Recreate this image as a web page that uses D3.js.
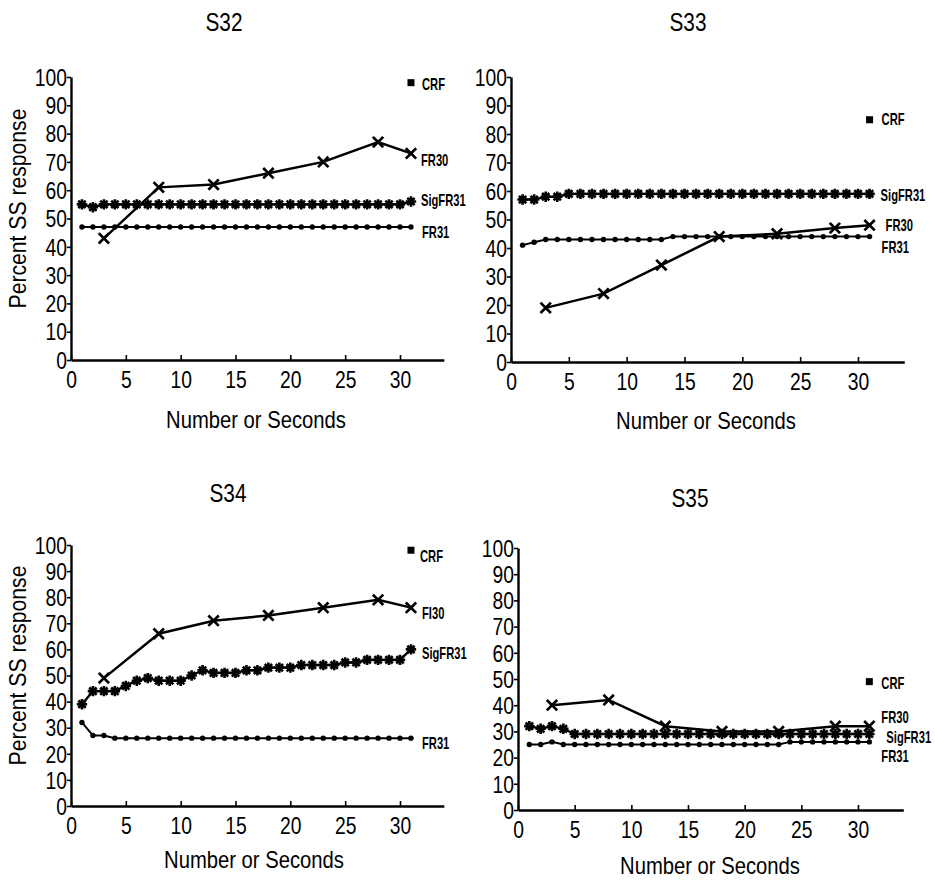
<!DOCTYPE html>
<html>
<head>
<meta charset="utf-8">
<script src="https://cdn.jsdelivr.net/npm/d3@7"></script>
<style>
  html, body { margin: 0; padding: 0; background: #fff; }
  svg { display: block; }
  text { font-family: "Liberation Sans", Arial, Helvetica, sans-serif; fill: #000; }
  .num { font-size: 23px; }
  .title { font-size: 26px; }
  .axlab { font-size: 23px; }
  .ser { font-size: 16px; font-weight: bold; }
</style>
</head>
<body>
<svg id="chart" width="935" height="880"></svg>
<script>
// ---------------- DATA ----------------
const sessions = [1,2,3,4,5,6,7,8,9,10,11,12,13,14,15,16,17,18,19,20,21,22,23,24,25,26,27,28,29,30,31];
const fr30Points = [3,8,13,18,23,28,31];
const xTicks = [0,5,10,15,20,25,30];
const yTicks = [0,10,20,30,40,50,60,70,80,90,100];

// S32
const s32FR31 = [47,47,47,47,47,47,47,47,47,47,47,47,47,47,47,47,47,47,47,47,47,47,47,47,47,47,47,47,47,47,47];
const s32Sig  = [55,54,55,55,55,55,55,55,55,55,55,55,55,55,55,55,55,55,55,55,55,55,55,55,55,55,55,55,55,55,56];
const s32FR30 = [43,61,62,66,70,77,73];
const s32CRF  = 98;

// S33
const s33FR31 = [41,42,43,43,43,43,43,43,43,43,43,43,43,44,44,44,44,44,44,44,44,44,44,44,44,44,44,44,44,44,44];
const s33Sig  = [57,57,58,58,59,59,59,59,59,59,59,59,59,59,59,59,59,59,59,59,59,59,59,59,59,59,59,59,59,59,59];
const s33FR30 = [19,24,34,44,45,47,48];
const s33CRF  = 85;

// S34
const s34FR31 = [32,27,27,26,26,26,26,26,26,26,26,26,26,26,26,26,26,26,26,26,26,26,26,26,26,26,26,26,26,26,26];
const s34Sig  = [39,44,44,44,46,48,49,48,48,48,50,52,51,51,51,52,52,53,53,53,54,54,54,54,55,55,56,56,56,56,60];
const s34FR30 = [49,66,71,73,76,79,76];
const s34CRF  = 98;

// S35
const s35FR31 = [25,25,26,25,25,25,25,25,25,25,25,25,25,25,25,25,25,25,25,25,25,25,25,26,26,26,26,26,26,26,26];
const s35Sig  = [32,31,32,31,29,29,29,29,29,29,29,29,29,29,29,29,29,29,29,29,29,29,29,29,29,29,29,29,29,29,29];
const s35FR30 = [40,42,32,30,30,32,32];
const s35CRF  = 49;

// series label texts and the y value (data units) where each label sits
const labelNames32 = ["CRF","FR30","SigFR31","FR31"];
const labelAt32    = [97.5, 70.7, 56.5, 45.2];
const labelNames33 = ["CRF","SigFR31","FR30","FR31"];
const labelAt33    = [85.3, 58.6, 48, 40.4];
const labelNames34 = ["CRF","FI30","SigFR31","FR31"];
const labelAt34    = [95.8, 74, 58.6, 24.1];
const labelNames35 = ["CRF","FR30","SigFR31","FR31"];
const labelAt35    = [48.5, 35.3, 27.9, 20.5];

// ---------------- LAYOUT ----------------
const panels = [
  {title:"S32", fr31:s32FR31, sig:s32Sig, fr30:s32FR30, crf:s32CRF, names:labelNames32, at:labelAt32,
   x0:71, x30:400, top:77, bottom:360, ylab:true, titleX:224, titleY:31, xlabX:256, xlabY:428, lx:[11,10,10,11]},
  {title:"S33", fr31:s33FR31, sig:s33Sig, fr30:s33FR30, crf:s33CRF, names:labelNames33, at:labelAt33,
   x0:511, x30:858, top:77, bottom:362, ylab:false, titleX:688, titleY:31, xlabX:706, xlabY:429, lx:[12,11,16,12]},
  {title:"S34", fr31:s34FR31, sig:s34Sig, fr30:s34FR30, crf:s34CRF, names:labelNames34, at:labelAt34,
   x0:71, x30:400, top:545, bottom:806, ylab:true, titleX:228, titleY:502, xlabX:254, xlabY:868, lx:[9,11,11,11]},
  {title:"S35", fr31:s35FR31, sig:s35Sig, fr30:s35FR30, crf:s35CRF, names:labelNames35, at:labelAt35,
   x0:518, x30:858, top:548, bottom:810, ylab:false, titleX:690, titleY:507, xlabX:710, xlabY:874, lx:[12,12,17,12]}
];

const svg = d3.select("#chart");

// condense text horizontally with a transform (reference uses a narrow face)
function condense(sel, ratio) {
  sel.each(function () {
    const tx = +(this.getAttribute("x") || 0);
    const ty = +(this.getAttribute("y") || 0);
    const prev = this.getAttribute("transform") || "";
    this.setAttribute("x", 0);
    this.setAttribute("y", 0);
    this.setAttribute("transform", `${prev} translate(${tx},${ty}) scale(${ratio},1)`);
  });
}

function starPath(r) {
  const d = r * 0.7071;
  return `M${-r},0L${r},0M0,${-r}L0,${r}M${-d},${-d}L${d},${d}M${-d},${d}L${d},${-d}`;
}
function xPath(r) {
  return `M${-r},${-r}L${r},${r}M${-r},${r}L${r},${-r}`;
}

panels.forEach(p => {
  const unit = (p.x30 - p.x0) / 30;
  const x = d3.scaleLinear().domain([0, 34]).range([p.x0, p.x0 + 34 * unit]);
  const y = d3.scaleLinear().domain([0, 100]).range([p.bottom, p.top]);
  const g = svg.append("g");

  // axes
  const yAxis = d3.axisLeft(y).tickValues(yTicks).tickSize(4).tickPadding(0).tickSizeOuter(0);
  const gy = g.append("g").attr("transform", `translate(${p.x0},0)`).call(yAxis);
  gy.attr("font-family", null).attr("font-size", null);
  gy.select(".domain").attr("stroke", "#000").attr("stroke-width", 2.4);
  gy.selectAll(".tick line").attr("stroke", "#000").attr("stroke-width", 1.6);
  gy.selectAll(".tick text").attr("class", "num").attr("dy", "0.36em");
  condense(gy.selectAll(".tick text"), 0.84);

  const xAxis = d3.axisBottom(x).tickValues(xTicks).tickSize(-5).tickPadding(9).tickSizeOuter(0);
  const gx = g.append("g").attr("transform", `translate(0,${p.bottom})`).call(xAxis);
  gx.attr("font-family", null).attr("font-size", null);
  gx.select(".domain").attr("stroke", "#000").attr("stroke-width", 2.4);
  gx.selectAll(".tick line").attr("stroke", "#000").attr("stroke-width", 1.6);
  gx.selectAll(".tick text").attr("class", "num").attr("dy", "0.82em");
  condense(gx.selectAll(".tick text"), 0.84);

  // titles / labels
  const t = g.append("text").attr("class", "title").attr("x", p.titleX).attr("y", p.titleY)
    .attr("text-anchor", "middle").text(p.title);
  condense(t, 0.8);
  const xl = g.append("text").attr("class", "axlab").attr("x", p.xlabX).attr("y", p.xlabY)
    .attr("text-anchor", "middle").text("Number or Seconds");
  condense(xl, 0.88);
  if (p.ylab) {
    const cy = (p.top + p.bottom) / 2 - 10;
    const yl = g.append("text").attr("class", "axlab").attr("transform", `translate(26,${cy}) rotate(-90)`)
      .attr("text-anchor", "middle").text("Percent SS response");
    condense(yl, 0.92);
  }

  const line = d3.line().x(d => x(d[0])).y(d => y(d[1]));

  // FR31 - dots
  const fr31 = sessions.map((s, i) => [s, p.fr31[i]]);
  g.append("path").attr("d", line(fr31)).attr("fill", "none").attr("stroke", "#000").attr("stroke-width", 2);
  g.selectAll(null).data(fr31).enter().append("circle")
    .attr("cx", d => x(d[0])).attr("cy", d => y(d[1])).attr("r", 2.7).attr("fill", "#000");

  // SigFR31 - asterisks
  const sig = sessions.map((s, i) => [s, p.sig[i]]);
  g.append("path").attr("d", line(sig)).attr("fill", "none").attr("stroke", "#000").attr("stroke-width", 2.4);
  g.selectAll(null).data(sig).enter().append("path")
    .attr("transform", d => `translate(${x(d[0])},${y(d[1])})`)
    .attr("d", starPath(5.2)).attr("stroke", "#000").attr("stroke-width", 2.6).attr("fill", "none");

  // FR30 - X marks
  const fr30 = fr30Points.map((s, i) => [s, p.fr30[i]]);
  g.append("path").attr("d", line(fr30)).attr("fill", "none").attr("stroke", "#000").attr("stroke-width", 2.5);
  g.selectAll(null).data(fr30).enter().append("path")
    .attr("transform", d => `translate(${x(d[0])},${y(d[1])})`)
    .attr("d", xPath(5.2)).attr("stroke", "#000").attr("stroke-width", 2.7).attr("fill", "none");

  // CRF - single square
  g.append("rect").attr("x", x(31) - 3.5).attr("y", y(p.crf) - 3.5).attr("width", 7).attr("height", 7).attr("fill", "#000");

  // series labels
  p.names.forEach((n, i) => {
    const s = g.append("text").attr("class", "ser").attr("x", x(31) + p.lx[i]).attr("y", y(p.at[i]))
      .attr("dy", "0.36em").text(n);
    condense(s, 0.7);
  });
});
</script>
</body>
</html>
